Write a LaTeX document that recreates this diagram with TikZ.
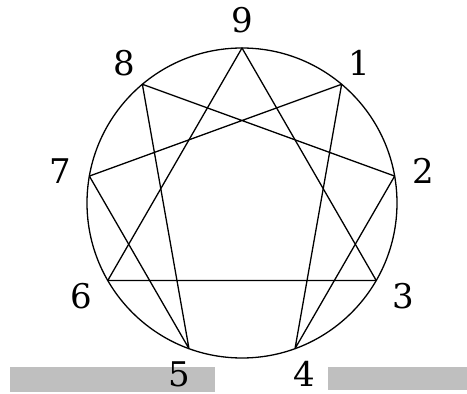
\documentclass[tikz,border=0pt]{standalone}
\usepackage{fontspec}
\setmainfont{DejaVu Serif}
\usetikzlibrary{calc}
\begin{document}
\begin{tikzpicture}[x=1pt,y=1pt,
  edge/.style={line width=1.3pt, line join=round},
  lbl/.style={font=\fontsize{34}{36}\selectfont, inner sep=0pt},
  bar/.style={fill=black!25, draw=none}]
\useasboundingbox (0,0) rectangle (467,394);
\fill[bar] (10,2) rectangle (215,27);
\fill[bar] (328,4) rectangle (467,27);
\coordinate (c) at (242,191);
\draw[edge] (c) circle (155);
\foreach \k in {0,...,8}{
  \coordinate (p\k) at ($(c)+({90-40*\k}:155)$);
}
\foreach \k/\r in {0/183,1/183,2/184,3/186,4/182,5/182,6/186,7/184,8/183}{
  \node[lbl] (l\k) at ($(c)+({90-40*\k}:\r)$) {\ifnum\k=0 9\else\k\fi};
}
\draw[edge] (p0) -- (p3) -- (p6) -- cycle;
\draw[edge] (p1) -- (p4) -- (p2) -- (p8) -- (p5) -- (p7) -- cycle;
\end{tikzpicture}
\end{document}
